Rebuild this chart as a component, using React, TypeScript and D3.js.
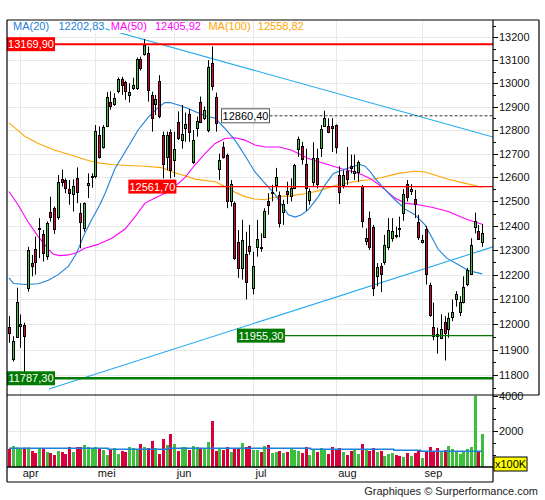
import React, { useEffect, useRef } from 'react';
import * as d3 from 'd3';

// daily candles, end of march to end of september
const openP = [
  11991, 11863, 11951, 11992, 11996, 12144, 12249, 12303, 12385, 12366,
  12276, 12456, 12472, 12435, 12592, 12589, 12551, 12532, 12596, 12452,
  12389, 12568, 12600, 12605, 12780, 12726, 12817, 12921, 12911, 12968,
  13017, 13004, 12950, 12978, 12978, 13105, 13127, 13130, 12950, 12911,
  13009, 12779, 12686, 12790, 12671, 12832, 12757, 12807, 12869, 12664,
  12810, 12921, 12850, 12800, 13090, 12943, 12636, 12728, 12693, 12503,
  12493, 12334, 12227, 12283, 12318, 12144, 12313, 12313, 12355, 12503,
  12533, 12569, 12527, 12458, 12543, 12524, 12557, 12721, 12732, 12657,
  12507, 12582, 12682, 12724, 12819, 12819, 12815, 12821, 12610, 12569,
  12626, 12648, 12617, 12623, 12566, 12337, 12433, 12393, 12193, 12236,
  12253, 12313, 12348, 12362, 12392, 12454, 12572, 12544, 12510, 12413,
  12331, 12385, 12156, 11991, 11960, 11947, 12009, 11983, 12031, 12103,
  12051, 12089, 12160, 12204, 12396, 12379, 12334,
];
const highP = [
  12033, 11953, 12147, 12040, 12007, 12313, 12280, 12355, 12431, 12382,
  12417, 12520, 12479, 12610, 12633, 12596, 12589, 12592, 12642, 12493,
  12496, 12617, 12617, 12821, 12815, 12821, 12962, 12965, 12957, 13025,
  13028, 13011, 13000, 13024, 13112, 13115, 13192, 13159, 12964, 12950,
  13035, 12793, 12793, 12803, 12793, 12879, 12907, 12874, 12890, 12800,
  12857, 12943, 12900, 13100, 13160, 12960, 12700, 12750, 12700, 12589,
  12500, 12382, 12424, 12375, 12403, 12293, 12424, 12368, 12472, 12534,
  12569, 12640, 12541, 12507, 12582, 12596, 12657, 12772, 12750, 12721,
  12554, 12748, 12721, 12821, 12882, 12850, 12850, 12824, 12647, 12630,
  12728, 12696, 12696, 12671, 12569, 12389, 12458, 12403, 12247, 12247,
  12362, 12431, 12431, 12396, 12437, 12551, 12589, 12572, 12548, 12445,
  12362, 12399, 12167, 12087, 11987, 12040, 12033, 12047, 12100, 12133,
  12113, 12193, 12227, 12348, 12454, 12403, 12407,
];
const lowP = [
  11927, 11853, 11947, 11907, 11787, 12131, 12193, 12200, 12267, 12253,
  12260, 12417, 12366, 12424, 12562, 12534, 12486, 12458, 12493, 12307,
  12375, 12514, 12557, 12596, 12679, 12721, 12812, 12886, 12903, 12957,
  12950, 12929, 12917, 12971, 12971, 13055, 13120, 12921, 12793, 12864,
  12850, 12596, 12630, 12596, 12602, 12757, 12721, 12750, 12750, 12657,
  12772, 12829, 12843, 12790, 12970, 12793, 12589, 12679, 12472, 12479,
  12260, 12187, 12180, 12100, 12280, 12120, 12273, 12293, 12351, 12445,
  12500, 12541, 12392, 12403, 12489, 12500, 12551, 12686, 12654, 12461,
  12486, 12562, 12554, 12686, 12815, 12786, 12707, 12700, 12489, 12554,
  12569, 12617, 12589, 12582, 12392, 12320, 12300, 12113, 12153, 12129,
  12240, 12300, 12334, 12348, 12352, 12420, 12500, 12527, 12431, 12341,
  12327, 12160, 12030, 11937, 11884, 11943, 11857, 11947, 12013, 12071,
  12033, 12084, 12153, 12200, 12368, 12341, 12313,
];
const closeP = [
  11967, 11933, 12091, 12000, 11953, 12300, 12233, 12253, 12392, 12287,
  12410, 12435, 12385, 12581, 12582, 12557, 12534, 12565, 12541, 12413,
  12493, 12575, 12605, 12796, 12686, 12812, 12943, 12904, 12936, 13018,
  12991, 12966, 12964, 12993, 13107, 13066, 13166, 12971, 12850, 12932,
  12860, 12657, 12779, 12630, 12721, 12764, 12782, 12824, 12793, 12757,
  12839, 12836, 12886, 13070, 12990, 12829, 12671, 12686, 12503, 12572,
  12267, 12227, 12341, 12171, 12296, 12233, 12345, 12308, 12461, 12486,
  12538, 12603, 12410, 12489, 12532, 12554, 12654, 12760, 12679, 12557,
  12543, 12682, 12572, 12804, 12853, 12791, 12807, 12728, 12538, 12610,
  12593, 12640, 12626, 12664, 12417, 12351, 12313, 12147, 12231, 12204,
  12320, 12382, 12379, 12358, 12388, 12531, 12520, 12551, 12490, 12355,
  12341, 12204, 12036, 11953, 11953, 11983, 11967, 12027, 12051, 12120,
  12089, 12151, 12217, 12320, 12420, 12345, 12369,
];
// volume in units of 100K
const volumes = [
  1010, 1178, 1100, 1010, 1085, 1100, 898, 785, 1010, 1010,
  842, 785, 673, 898, 842, 729, 1122, 842, 1122, 1122,
  1234, 1122, 1010, 1122, 1010, 954, 673, 1010, 1066, 729,
  898, 842, 1122, 1066, 1010, 1290, 1122, 1066, 1459, 1066,
  729, 1571, 1234, 1851, 1290, 898, 1122, 1122, 954, 1178,
  1122, 1010, 1010, 1403, 2581, 898, 1010, 954, 1122, 842,
  1010, 1010, 1346, 1122, 1178, 954, 954, 842, 1178, 1234,
  785, 842, 898, 785, 842, 1010, 954, 898, 785, 1122,
  673, 1010, 842, 1066, 954, 729, 1122, 1010, 1066, 842,
  673, 898, 954, 729, 1290, 954, 898, 1066, 842, 898,
  617, 729, 785, 673, 617, 561, 785, 617, 785, 898,
  505, 898, 1122, 842, 1066, 842, 954, 1178, 1010, 842,
  729, 898, 1010, 1122, 4000, 898, 1851,
];
// volume average, [bar, value]
const volAvg: [number, number][] = [
  [0, 1050], [26.4, 1050], [26.4, 990], [42.4, 990], [42.4, 1050], [80.3, 1050],
  [80.3, 990], [102.5, 990], [102.5, 935], [109.6, 935], [109.6, 880], [126, 880],
];

// moving averages, [bar, price]
const ma20: [number, number][] = [
  [0, 12187], [1.2, 12164], [4.3, 12160], [7.8, 12163], [10.5, 12177], [13.1, 12200],
  [15.8, 12233], [18, 12287], [20.2, 12369], [22, 12424], [24.2, 12486], [25.6, 12534],
  [28.2, 12636], [30.9, 12707], [34.4, 12800], [37.1, 12855], [39.3, 12890], [41.5, 12917],
  [42.9, 12917], [45.1, 12907], [47.5, 12893], [49.5, 12879], [52.2, 12861], [54.9, 12850],
  [57.5, 12807], [60.2, 12757], [62.8, 12693], [65.5, 12623], [68.2, 12575], [70.8, 12530],
  [72.6, 12486], [74.4, 12445], [76.2, 12435], [77.9, 12445], [79.7, 12466], [82.4, 12520],
  [84.2, 12569], [86.4, 12617], [88.6, 12630], [91.3, 12644], [93.5, 12654], [94.8, 12647],
  [96.1, 12626], [97.5, 12596], [100.2, 12548], [102.8, 12507], [105.5, 12468], [108.1, 12445],
  [110.8, 12403], [112.6, 12352], [114.3, 12303], [116.6, 12267], [119.7, 12240], [122.3, 12217],
  [126, 12203],
];
const ma50: [number, number][] = [
  [0, 12541], [2.4, 12486], [5, 12417], [7.8, 12355], [10.5, 12303], [11.8, 12283],
  [13.6, 12277], [15.8, 12280], [18, 12289], [20.2, 12307], [23.5, 12322], [27.4, 12348],
  [30.9, 12386], [33.6, 12437], [36.2, 12493], [38.9, 12514], [41.5, 12534], [44.2, 12562],
  [46.9, 12600], [49.5, 12652], [52.2, 12700], [54.9, 12743], [57.5, 12764], [60.2, 12767],
  [62.8, 12757], [65.5, 12736], [68.2, 12728], [72, 12728], [75.3, 12714], [79.7, 12679],
  [84.2, 12657], [88.6, 12636], [91.3, 12626], [93.9, 12612], [96.1, 12596], [97.5, 12582],
  [100.2, 12548], [102.8, 12514], [105.5, 12493], [109, 12486], [112.6, 12476], [117, 12458],
  [121.5, 12428], [126, 12406],
];
const ma100: [number, number][] = [
  [0, 12830], [4.3, 12772], [7.8, 12743], [12.3, 12714], [16.7, 12693], [21.1, 12671],
  [24.2, 12660], [27.4, 12654], [31.8, 12650], [36.2, 12647], [40.7, 12641], [44.2, 12619],
  [46.9, 12607], [49.5, 12593], [54.9, 12582], [57.5, 12562], [60.2, 12538], [62.8, 12520],
  [65.5, 12510], [68.2, 12507], [70.8, 12518], [75.3, 12524], [79.7, 12534], [83.3, 12548],
  [86.8, 12566], [90.4, 12578], [93, 12585], [96, 12590], [99.3, 12600], [103.7, 12617],
  [108.1, 12626], [110.8, 12623], [113.4, 12610], [117, 12592], [121.5, 12575], [126, 12559],
];

// trend lines, two points each [bar, price]
const trendLines: [number, number][][] = [
  [[17.3, 13276], [128.9, 12770]],
  [[10.65, 11745], [128.9, 12313]],
];

// marked levels; start bar (null = left edge)
const levelValues = [13169.9, 12561.7, 12860.4, 11955.3, 11787.3];
const levelLabels = ['13169,90', '12561,70', '12860,40', '11955,30', '11787,30'];
const levelStarts: (number | null)[] = [null, 31.8, 56.6, 60.7, null];

const monthNames = ['apr', 'mei', 'jun', 'jul', 'aug', 'sep'];
const monthStarts = [3, 23, 44, 65, 87, 110];

const priceTicks = [11800, 11900, 12000, 12100, 12200, 12300, 12400, 12500, 12600, 12700, 12800, 12900, 13000, 13100, 13200];
const volTicks = [2000, 4000];

const legendNames = ['MA(20)', 'MA(50)', 'MA(100)'];
const legendValues = ['12202,83', '12405,92', '12558,82'];

const App: React.FC = () => {
  const svgRef = useRef<SVGSVGElement>(null);

  useEffect(() => {
    if (!svgRef.current) return;
    document.body.style.margin = '0';

    const svg = d3.select(svgRef.current);
    svg.selectAll('*').remove();

    const left = 7;
    const axisX = 493;
    const right = 539;
    const top = 20;
    const priceBottom = 395;
    const volBottom = 467;
    const bottom = 482;
    const font = '"Liberation Sans", Arial, Helvetica, sans-serif';
    const green = '#3cbf3c';
    const red = '#d7003c';
    const maColors = ['#1e7fd6', '#ff00ff', '#ffa500'];
    const trendColor = '#22aaee';

    const x = d3.scaleLinear().domain([0, openP.length - 1]).range([9, 482.1]);
    const y = d3.scaleLog().domain([11722, 13276]).range([priceBottom, top]);
    const yv = d3.scaleLinear().domain([0, 4000]).range([volBottom, 395.7]);
    const px = (i: number) => Math.round(x(i)) + 0.5;
    const py = (v: number) => Math.round(y(v)) + 0.5;

    svg.append('rect').attr('width', 545).attr('height', 500).attr('fill', '#fff');

    // grid
    const grid = svg.append('g').attr('stroke', '#e8e8e8').attr('stroke-width', 1);
    priceTicks.forEach((t) => {
      grid.append('line').attr('x1', left).attr('x2', axisX).attr('y1', py(t)).attr('y2', py(t));
    });
    grid.append('line').attr('x1', left).attr('x2', axisX)
      .attr('y1', Math.round(yv(2000)) + 0.5).attr('y2', Math.round(yv(2000)) + 0.5);
    monthStarts.forEach((m) => {
      grid.append('line').attr('x1', px(m)).attr('x2', px(m)).attr('y1', top).attr('y2', volBottom);
    });

    svg.append('defs').append('clipPath').attr('id', 'pclip')
      .append('rect').attr('x', left).attr('y', top).attr('width', axisX - left).attr('height', priceBottom - top);
    const plot = svg.append('g').attr('clip-path', 'url(#pclip)');

    // moving averages
    const line = d3.line<[number, number]>().x((d) => x(d[0])).y((d) => y(d[1]));
    [ma100, ma50, ma20].forEach((s, k) => {
      plot.append('path').datum(s).attr('d', line).attr('fill', 'none')
        .attr('stroke', maColors[2 - k]).attr('stroke-width', 1.1);
    });

    // trend lines
    trendLines.forEach((t) => {
      plot.append('path').datum(t).attr('d', line).attr('fill', 'none')
        .attr('stroke', trendColor).attr('stroke-width', 1.1);
    });

    // candles
    const idx = d3.range(openP.length);
    plot.selectAll('.wick').data(idx).enter().append('line')
      .attr('x1', (i) => px(i)).attr('x2', (i) => px(i))
      .attr('y1', (i) => y(highP[i])).attr('y2', (i) => y(lowP[i]))
      .attr('stroke', '#000').attr('stroke-width', 1);
    plot.selectAll('.body').data(idx).enter().append('rect')
      .attr('x', (i) => px(i) - 1)
      .attr('y', (i) => py(Math.max(openP[i], closeP[i])))
      .attr('width', 2)
      .attr('height', (i) => Math.max(1, py(Math.min(openP[i], closeP[i])) - py(Math.max(openP[i], closeP[i]))))
      .attr('fill', (i) => (closeP[i] >= openP[i] ? green : red))
      .attr('stroke', '#000').attr('stroke-width', 1);

    // marked levels
    levelValues.forEach((v, k) => {
      const ly = y(v);
      const bx = levelStarts[k] === null ? left : x(levelStarts[k] as number);
      const bw = 48;
      const isRed = k < 2;
      const isDashed = k === 2;
      const col = isRed ? '#ff0000' : isDashed ? '#333' : '#007a00';
      const lw = k === 0 ? 2 : k === 4 ? 2.5 : isDashed ? 1 : 1.4;
      const x0 = levelStarts[k] === null ? left : bx + (isDashed ? bw : 0);
      const l = svg.append('line').attr('x1', x0).attr('x2', axisX).attr('y1', ly).attr('y2', ly)
        .attr('stroke', col).attr('stroke-width', lw);
      if (isDashed) l.attr('stroke-dasharray', '3,2');
      svg.append('rect').attr('x', bx).attr('y', ly - 7).attr('width', bw).attr('height', 14)
        .attr('fill', isDashed ? '#fff' : col)
        .attr('stroke', isDashed ? '#555' : 'none').attr('stroke-width', 1);
      svg.append('text').attr('x', bx + bw / 2).attr('y', ly + 4).attr('text-anchor', 'middle')
        .style('font-family', font).style('font-size', '11px')
        .attr('fill', isDashed ? '#000' : '#fff').text(levelLabels[k]);
    });

    // volume
    svg.selectAll('.vol').data(idx).enter().append('rect')
      .attr('x', (i) => Math.round(x(i)) - 1)
      .attr('y', (i) => yv(volumes[i]))
      .attr('width', 3)
      .attr('height', (i) => volBottom - yv(volumes[i]))
      .attr('fill', (i) => (closeP[i] >= openP[i] ? green : red));
    svg.append('path').datum(volAvg)
      .attr('d', d3.line<[number, number]>().x((d) => x(d[0])).y((d) => yv(d[1])))
      .attr('fill', 'none').attr('stroke', '#1e7fd6').attr('stroke-width', 1.5);

    // frame
    const frame = svg.append('g').attr('stroke', '#000').attr('stroke-width', 1.2);
    frame.append('line').attr('x1', left).attr('x2', right).attr('y1', top).attr('y2', top);
    frame.append('line').attr('x1', left).attr('x2', left).attr('y1', top).attr('y2', bottom);
    frame.append('line').attr('x1', axisX).attr('x2', axisX).attr('y1', top).attr('y2', bottom);
    frame.append('line').attr('x1', right).attr('x2', right).attr('y1', top).attr('y2', priceBottom);
    frame.append('line').attr('x1', left).attr('x2', right).attr('y1', priceBottom).attr('y2', priceBottom);
    frame.append('line').attr('x1', left).attr('x2', axisX).attr('y1', volBottom).attr('y2', volBottom)
      .attr('stroke-width', 1.6);
    frame.append('line').attr('x1', left).attr('x2', axisX).attr('y1', bottom).attr('y2', bottom);

    // price axis
    const axis = svg.append('g');
    const minor = [11750, ...priceTicks.map((t) => t + 50)];
    minor.forEach((t) => {
      if (y(t) < top || y(t) > priceBottom) return;
      axis.append('line').attr('x1', axisX).attr('x2', axisX + 3).attr('y1', py(t)).attr('y2', py(t))
        .attr('stroke', '#000');
    });
    priceTicks.forEach((t) => {
      axis.append('line').attr('x1', axisX).attr('x2', axisX + 5).attr('y1', py(t)).attr('y2', py(t))
        .attr('stroke', '#000');
      axis.append('text').attr('x', axisX + 6).attr('y', y(t) + 4)
        .style('font-family', font).style('font-size', '11px').attr('fill', '#111').text(String(t));
    });

    // volume axis
    [1, 2, 4, 5].forEach((k) => {
      const ty = Math.round(yv((4000 * k) / 6)) + 0.5;
      axis.append('line').attr('x1', axisX).attr('x2', axisX + 3).attr('y1', ty).attr('y2', ty).attr('stroke', '#000');
    });
    volTicks.forEach((t) => {
      const ty = Math.round(yv(t)) + 0.5;
      axis.append('line').attr('x1', axisX).attr('x2', axisX + 5).attr('y1', ty).attr('y2', ty).attr('stroke', '#000');
      axis.append('text').attr('x', axisX + 6).attr('y', yv(t) + 4)
        .style('font-family', font).style('font-size', '11px').attr('fill', '#111').text(String(t));
    });
    axis.append('rect').attr('x', 494).attr('y', 457).attr('width', 33).attr('height', 14)
      .attr('fill', '#ffff00').attr('stroke', '#000').attr('stroke-width', 1);
    axis.append('text').attr('x', 510.5).attr('y', 468).attr('text-anchor', 'middle')
      .style('font-family', font).style('font-size', '11px').attr('fill', '#000').text('x100K');

    // months
    monthNames.forEach((m, k) => {
      svg.append('text').attr('x', x(monthStarts[k]) + 2.5).attr('y', 477)
        .style('font-family', font).style('font-size', '11px').attr('fill', '#111').text(m);
    });

    // legend
    const legendX = [13, 58.5, 110.8, 155, 208.4, 257.8];
    const legendTexts = [legendNames[0], legendValues[0], legendNames[1], legendValues[1], legendNames[2], legendValues[2]];
    legendTexts.forEach((t, k) => {
      const bg = svg.append('rect').attr('fill', '#fff');
      const tx = svg.append('text').attr('x', legendX[k]).attr('y', 30)
        .style('font-family', font).style('font-size', '11px')
        .attr('fill', maColors[Math.floor(k / 2)]).text(t);
      const w = (tx.node() as SVGTextElement).getComputedTextLength();
      bg.attr('x', legendX[k] - 1).attr('y', 21).attr('width', w + 2).attr('height', 12);
    });

    svg.append('text').attr('x', 538).attr('y', 495).attr('text-anchor', 'end')
      .style('font-family', font).style('font-size', '11px').attr('fill', '#222')
      .text('Graphiques © Surperformance.com');
  }, []);

  return (
    <svg
      ref={svgRef}
      width={545}
      height={500}
      style={{ position: 'absolute', left: 0, top: 0, display: 'block' }}
    />
  );
};

export default App;
